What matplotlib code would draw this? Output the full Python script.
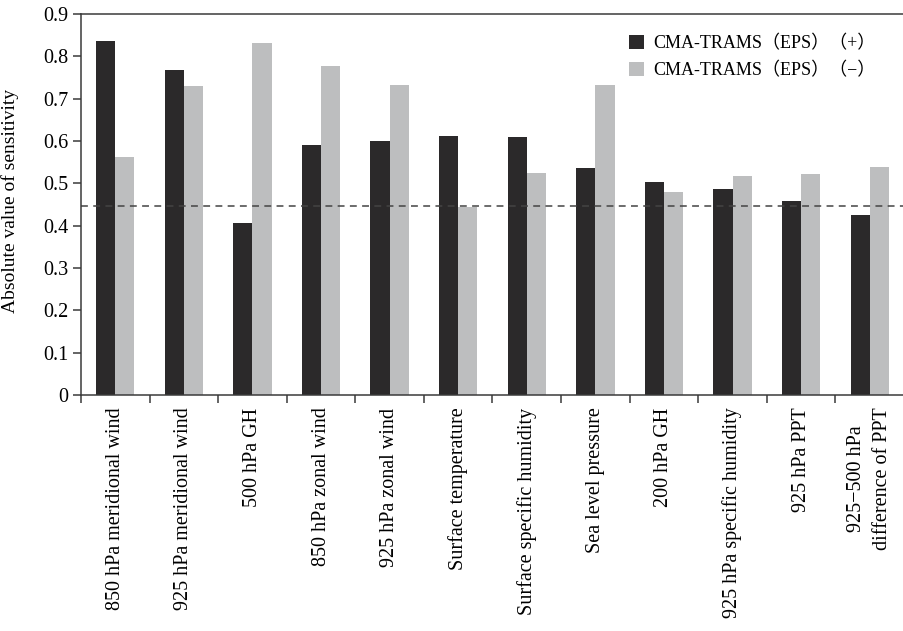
import numpy as np
import matplotlib
matplotlib.use("Agg")
from matplotlib import pyplot as plt

plt.rcParams['font.family'] = ['Liberation Serif', 'Noto Sans CJK SC']

categories = ["850 hPa meridional wind", "925 hPa meridional wind", "500 hPa GH",
              "850 hPa zonal wind", "925 hPa zonal wind", "Surface temperature",
              "Surface specific humidity", "Sea level pressure", "200 hPa GH",
              "925 hPa specific humidity", "925 hPa PPT",
              "925\u2212500 hPa\ndifference of PPT"]
plus = [0.837, 0.768, 0.406, 0.590, 0.600, 0.611, 0.609, 0.536, 0.502, 0.486, 0.458, 0.424]
minus = [0.561, 0.730, 0.831, 0.776, 0.733, 0.445, 0.524, 0.731, 0.479, 0.516, 0.523, 0.538]
threshold = 0.447
labels = ["CMA-TRAMS\uff08EPS\uff09\uff08+\uff09", "CMA-TRAMS\uff08EPS\uff09\uff08\u2212\uff09"]

dark = "#2b292a"
light = "#bdbebf"
axis_col = "#3a3a3a"

fig = plt.figure(figsize=(9.04, 6.31), dpi=100)
ax = fig.add_axes([0.0896, 0.374, 0.9104, 0.604])

x = np.arange(len(categories))
w = 0.28
ax.bar(x - w / 2, plus, w, color=dark, label=labels[0])
ax.bar(x + w / 2, minus, w, color=light, label=labels[1])
ax.axhline(threshold, color="#444444", lw=1.1, ls=(0, (4.5, 3.5)))

ax.set_xlim(-0.5, 11.376)
ax.set_ylim(0, 0.9)
ax.set_yticks(np.arange(0, 0.91, 0.1))
ax.set_yticklabels(["0"] + [f"{v:.1f}" for v in np.arange(0.1, 0.91, 0.1)])
ax.set_xticks(x)
ax.set_xticklabels(categories, rotation=90, va="top", ha="center", fontsize=14.5,
                   linespacing=1.5)
ax.set_xticks(np.arange(-0.5, 12, 1.0), minor=True)
ax.tick_params(axis="x", which="major", length=0, pad=9)
ax.tick_params(axis="x", which="minor", length=6, width=1.1, color=axis_col)
ax.tick_params(axis="y", length=6, width=1.1, color=axis_col, labelsize=14.5, pad=3)
ax.set_ylabel("Absolute value of sensitivity", fontsize=14, labelpad=5)
ax.yaxis.set_label_coords(-0.075, 0.51)

for side in ["left", "bottom", "top"]:
    ax.spines[side].set_color(axis_col)
    ax.spines[side].set_linewidth(1.1)
ax.spines["right"].set_visible(False)

ax.legend(loc="upper right", bbox_to_anchor=(0.985, 0.988), frameon=False, fontsize=13,
          handlelength=0.85, handleheight=0.85, handletextpad=0.5, labelspacing=0.55)

fig.savefig("out.png", dpi=100)
plt.close()
